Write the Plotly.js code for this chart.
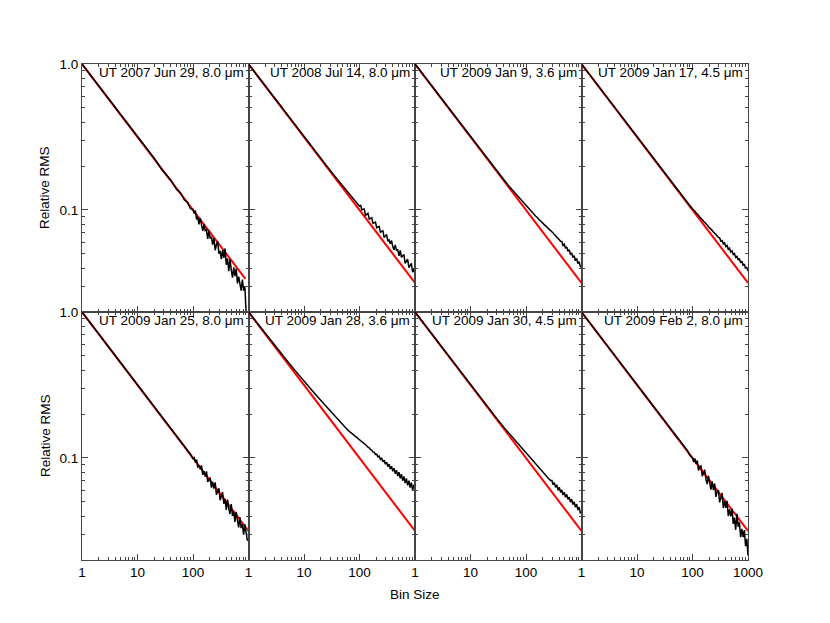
<!DOCTYPE html>
<html>
<head>
<meta charset="utf-8">
<script src="https://cdn.plot.ly/plotly-3.0.1.min.js"></script>
<style>html,body{margin:0;padding:0;background:#fff}</style>
</head>
<body>
<div id="chart" style="width:830px;height:623px"></div>
<script>
// Bin sizes shared by every panel
var binSizes = [1, 2, 3, 5, 7, 10, 14, 20, 28, 40, 50, 60, 70, 80, 90, 100,
  105, 110, 116, 122, 128, 135, 142, 150, 158, 166, 175, 184, 194, 204, 215, 226, 238, 251, 264, 278,
  293, 308, 324, 341, 359, 378, 398, 419, 441, 464, 489, 515, 542, 570, 600, 632, 665, 700, 737, 776,
  817, 860, 905, 953, 1000];

// Relative RMS (black curves)
var rms2007Jun29 = [1.0, 0.707, 0.577, 0.447, 0.378, 0.316, 0.267, 0.226, 0.187, 0.160, 0.139, 0.131, 0.117, 0.113, 0.102, 0.101,
  0.0947, 0.0991, 0.0863, 0.0896, 0.0796, 0.0878, 0.0797, 0.0718, 0.0796, 0.0722, 0.0733, 0.0634, 0.0725, 0.0637, 0.0655, 0.0579, 0.0642, 0.0530, 0.0578, 0.0612,
  0.0502, 0.0524, 0.0461, 0.0531, 0.0470, 0.0545, 0.0421, 0.0465, 0.0381, 0.0459, 0.0389, 0.0344, 0.0404, 0.0352, 0.0396, 0.0314, 0.0349, 0.0310, 0.0280, 0.0334,
  0.0280, 0.0300, 0.0199, null, null];
var rms2008Jul14 = [1.0, 0.707, 0.578, 0.448, 0.379, 0.317, 0.268, 0.226, 0.192, 0.162, 0.146, 0.134, 0.125, 0.118, 0.111, 0.106,
  0.1074, 0.1001, 0.1012, 0.1014, 0.0919, 0.0930, 0.0948, 0.0865, 0.0876, 0.0885, 0.0809, 0.0818, 0.0826, 0.0756, 0.0764, 0.0771, 0.0706, 0.0713, 0.0720, 0.0648,
  0.0666, 0.0678, 0.0612, 0.0623, 0.0586, 0.0617, 0.0561, 0.0533, 0.0576, 0.0529, 0.0533, 0.0485, 0.0529, 0.0473, 0.0486, 0.0494, 0.0431, 0.0442, 0.0460, 0.0402,
  0.0420, 0.0430, 0.0375, 0.0395, 0.0373];
var rms2009Jan09 = [1.0, 0.707, 0.577, 0.447, 0.378, 0.316, 0.268, 0.225, 0.190, 0.161, 0.145, 0.134, 0.125, 0.118, 0.112, 0.107,
  0.1044, 0.1029, 0.1002, 0.0986, 0.0964, 0.0947, 0.0923, 0.0906, 0.0892, 0.0869, 0.0854, 0.0840, 0.0819, 0.0805, 0.0791, 0.0778, 0.0765, 0.0745, 0.0732, 0.0720,
  0.0707, 0.0695, 0.0678, 0.0667, 0.0655, 0.0637, 0.0626, 0.0611, 0.0609, 0.0571, 0.0583, 0.0547, 0.0559, 0.0520, 0.0534, 0.0498, 0.0508, 0.0473, 0.0486, 0.0449,
  0.0466, 0.0430, 0.0442, 0.0411, 0.0404];
var rms2009Jan17 = [1.0, 0.707, 0.577, 0.447, 0.378, 0.316, 0.267, 0.224, 0.189, 0.159, 0.143, 0.130, 0.121, 0.113, 0.107, 0.102,
  0.1005, 0.0982, 0.0956, 0.0941, 0.0919, 0.0895, 0.0881, 0.0857, 0.0836, 0.0823, 0.0801, 0.0789, 0.0768, 0.0756, 0.0737, 0.0725, 0.0706, 0.0694, 0.0677, 0.0666,
  0.0648, 0.0644, 0.0612, 0.0618, 0.0586, 0.0596, 0.0561, 0.0572, 0.0538, 0.0548, 0.0515, 0.0525, 0.0495, 0.0503, 0.0473, 0.0482, 0.0454, 0.0465, 0.0434, 0.0445,
  0.0417, 0.0426, 0.0395, 0.0405, 0.0382];
var rms2009Jan25 = [1.0, 0.707, 0.577, 0.447, 0.378, 0.316, 0.267, 0.225, 0.189, 0.158, 0.141, 0.129, 0.121, 0.111, 0.106, 0.099,
  0.1005, 0.0934, 0.0974, 0.0860, 0.0893, 0.0835, 0.0889, 0.0767, 0.0812, 0.0745, 0.0809, 0.0685, 0.0711, 0.0735, 0.0627, 0.0685, 0.0616, 0.0681, 0.0560, 0.0600,
  0.0619, 0.0513, 0.0539, 0.0585, 0.0486, 0.0524, 0.0441, 0.0518, 0.0452, 0.0413, 0.0484, 0.0401, 0.0430, 0.0365, 0.0428, 0.0370, 0.0334, 0.0393, 0.0331, 0.0352,
  0.0298, 0.0351, 0.0302, 0.0272, 0.0278];
var rms2009Jan28 = [1.0, 0.712, 0.585, 0.462, 0.395, 0.334, 0.290, 0.249, 0.215, 0.185, 0.168, 0.157, 0.149, 0.143, 0.138, 0.134,
  0.1318, 0.1300, 0.1272, 0.1255, 0.1228, 0.1213, 0.1184, 0.1171, 0.1141, 0.1132, 0.1098, 0.1095, 0.1058, 0.1062, 0.1017, 0.1029, 0.0978, 0.0996, 0.0942, 0.0965,
  0.0906, 0.0936, 0.0872, 0.0907, 0.0840, 0.0878, 0.0810, 0.0851, 0.0780, 0.0825, 0.0751, 0.0800, 0.0725, 0.0774, 0.0699, 0.0748, 0.0673, 0.0724, 0.0650, 0.0700,
  0.0626, 0.0677, 0.0603, 0.0655, 0.0600];
var rms2009Jan30 = [1.0, 0.707, 0.577, 0.447, 0.378, 0.317, 0.268, 0.226, 0.192, 0.162, 0.147, 0.135, 0.127, 0.119, 0.113, 0.1075,
  0.1054, 0.1034, 0.1012, 0.0991, 0.0972, 0.0947, 0.0927, 0.0906, 0.0888, 0.0869, 0.0851, 0.0833, 0.0811, 0.0795, 0.0777, 0.0765, 0.0745, 0.0732, 0.0713, 0.0702,
  0.0701, 0.0656, 0.0678, 0.0629, 0.0655, 0.0601, 0.0631, 0.0582, 0.0605, 0.0557, 0.0583, 0.0538, 0.0563, 0.0520, 0.0539, 0.0498, 0.0520, 0.0480, 0.0500, 0.0460,
  0.0483, 0.0440, 0.0461, 0.0421, 0.0423];
var rms2009Feb02 = [1.0, 0.707, 0.577, 0.447, 0.378, 0.316, 0.268, 0.225, 0.188, 0.160, 0.141, 0.130, 0.119, 0.113, 0.104, 0.100,
  0.0937, 0.0991, 0.0909, 0.0959, 0.0822, 0.0870, 0.0881, 0.0751, 0.0788, 0.0830, 0.0711, 0.0663, 0.0754, 0.0679, 0.0607, 0.0692, 0.0603, 0.0669, 0.0541, 0.0588,
  0.0602, 0.0496, 0.0528, 0.0575, 0.0454, 0.0509, 0.0456, 0.0509, 0.0400, 0.0445, 0.0398, 0.0450, 0.0353, 0.0390, 0.0322, 0.0414, 0.0338, 0.0363, 0.0287, 0.0327,
  0.0287, 0.0321, 0.0249, 0.0279, 0.0215];

var panelLabels = ["UT 2007 Jun 29, 8.0 \u03bcm", "UT 2008 Jul 14, 8.0 \u03bcm", "UT 2009 Jan 9, 3.6 \u03bcm", "UT 2009 Jan 17, 4.5 \u03bcm",
  "UT 2009 Jan 25, 8.0 \u03bcm", "UT 2009 Jan 28, 3.6 \u03bcm", "UT 2009 Jan 30, 4.5 \u03bcm", "UT 2009 Feb 2, 8.0 \u03bcm"];
var panelSeries = [rms2007Jun29, rms2008Jul14, rms2009Jan09, rms2009Jan17, rms2009Jan25, rms2009Jan28, rms2009Jan30, rms2009Feb02];

// White-noise expectation (red line), from bin 1 to the last bin of each run
var modelBins = [[1, 880], [1, 1000], [1, 1000], [1, 1000], [1, 1000], [1, 1000], [1, 1000], [1, 1000]];
var modelRms = [[1, 0.0337], [1, 0.0316], [1, 0.0316], [1, 0.0316], [1, 0.0316], [1, 0.0316], [1, 0.0316], [1, 0.0316]];

var xMajor = [1, 10, 100, 1000];
var xMinor = [2, 3, 4, 5, 6, 7, 8, 9, 20, 30, 40, 50, 60, 70, 80, 90, 200, 300, 400, 500, 600, 700, 800, 900];
var yMajor = [0.1, 1];
var yMajorText = ["0.1", "1.0"];
var yMinor = [0.02, 0.03, 0.04, 0.05, 0.06, 0.07, 0.08, 0.09, 0.2, 0.3, 0.4, 0.5, 0.6, 0.7, 0.8, 0.9];

var W = 830, H = 623;
var colEdges = [82, 248.5, 415, 581.5, 748];
var rowEdges = [64, 312, 560];
var font = "Liberation Sans, Arial, Helvetica, sans-serif";
var frame = "#444";

var data = [];
var layout = {
  width: W, height: H,
  margin: {l: 0, r: 0, t: 0, b: 0},
  paper_bgcolor: "#fff", plot_bgcolor: "#fff",
  showlegend: false,
  font: {family: font, size: 13, color: "#000"},
  annotations: []
};

panelSeries.forEach(function (rms, i) {
  var col = i % 4, row = Math.floor(i / 4), n = i + 1;
  var xa = n === 1 ? "x" : "x" + n, ya = n === 1 ? "y" : "y" + n;

  data.push({x: modelBins[i], y: modelRms[i], xaxis: xa, yaxis: ya, mode: "lines",
    line: {color: "#ff0000", width: 2}, hoverinfo: "skip"});
  data.push({x: binSizes, y: rms, xaxis: xa, yaxis: ya, mode: "lines",
    line: {color: "#000", width: 1.5}, connectgaps: false});

  var last = col === 3;
  layout["xaxis" + (n === 1 ? "" : n)] = {
    domain: [colEdges[col] / W, colEdges[col + 1] / W], anchor: ya,
    type: "log", range: [0, 3], showgrid: false, zeroline: false,
    showline: true, linecolor: frame, linewidth: 1, mirror: "ticks",
    ticks: "inside", ticklen: 6, tickcolor: frame, tickwidth: 1,
    tickmode: "array", tickvals: xMajor,
    ticktext: ["1", "10", "100", last ? "1000" : ""],
    showticklabels: row === 1,
    minor: {ticks: "inside", ticklen: 3, tickcolor: frame, tickwidth: 1, tickmode: "array", tickvals: xMinor, showgrid: false},
    tickfont: {size: 13.5}, fixedrange: true
  };
  layout["yaxis" + (n === 1 ? "" : n)] = {
    domain: [1 - rowEdges[row + 1] / H, 1 - rowEdges[row] / H], anchor: xa,
    type: "log", range: [Math.log10(0.02), 0], showgrid: false, zeroline: false,
    showline: true, linecolor: frame, linewidth: 1, mirror: "ticks",
    ticks: "inside", ticklen: 6, tickcolor: frame, tickwidth: 1,
    tickmode: "array", tickvals: yMajor, ticktext: yMajorText,
    showticklabels: col === 0,
    minor: {ticks: "inside", ticklen: 3, tickcolor: frame, tickwidth: 1, tickmode: "array", tickvals: yMinor, showgrid: false},
    tickfont: {size: 13.5}, fixedrange: true
  };

  layout.annotations.push({
    xref: "paper", yref: "paper",
    x: (colEdges[col + 1] - 3) / W, y: 1 - (rowEdges[row] - 1) / H,
    xanchor: "right", yanchor: "top", showarrow: false,
    text: panelLabels[i], font: {size: 13.5, family: font}
  });
});

// axis titles
[0, 1].forEach(function (row) {
  layout.annotations.push({
    xref: "paper", yref: "paper", x: 45 / W, y: 1 - (rowEdges[row] + rowEdges[row + 1]) / 2 / H,
    xanchor: "center", yanchor: "middle", textangle: -90, showarrow: false,
    text: "Relative RMS", font: {size: 13.5, family: font}
  });
});
layout.annotations.push({
  xref: "paper", yref: "paper", x: 415 / W, y: 1 - 594 / H,
  xanchor: "center", yanchor: "middle", showarrow: false,
  text: "Bin Size", font: {size: 13.5, family: font}
});

Plotly.newPlot("chart", data, layout, {displayModeBar: false, staticPlot: true});
</script>
</body>
</html>
